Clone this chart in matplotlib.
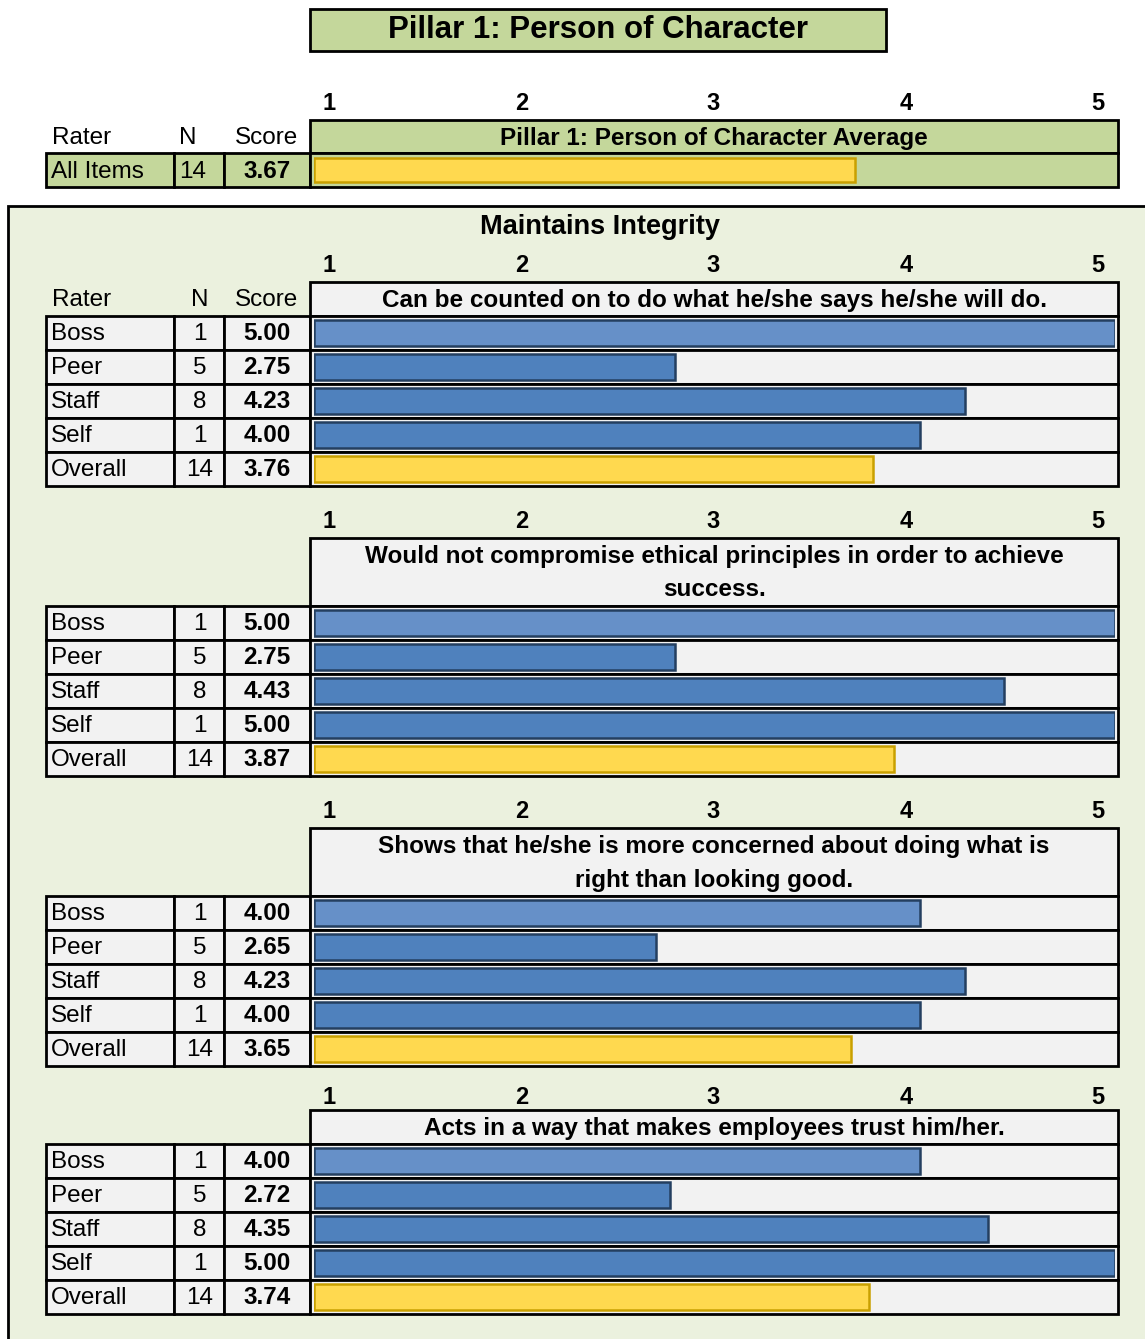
import numpy as np
import matplotlib
matplotlib.use("Agg")
import matplotlib.pyplot as plt
from matplotlib.patches import Rectangle

plt.rcParams['font.family'] = ['Liberation Sans', 'DejaVu Sans']

# ---- data ----
pillar_title = "Pillar 1: Person of Character"
section_title = "Maintains Integrity"
scale_labels = ["1", "2", "3", "4", "5"]
raters = ["Boss", "Peer", "Staff", "Self", "Overall"]
rater_n = [1, 5, 8, 1, 14]
all_items_n = 14
all_items_score = 3.67
items = [
    "Can be counted on to do what he/she says he/she will do.",
    "Would not compromise ethical principles in order to achieve\nsuccess.",
    "Shows that he/she is more concerned about doing what is\nright than looking good.",
    "Acts in a way that makes employees trust him/her.",
]
item_scores = [
    [5.00, 2.75, 4.23, 4.00, 3.76],
    [5.00, 2.75, 4.43, 5.00, 3.87],
    [4.00, 2.65, 4.23, 4.00, 3.65],
    [4.00, 2.72, 4.35, 5.00, 3.74],
]

# ---- styling ----
W, H = 1145, 1339
GREEN = "#C4D79B"
PANEL = "#EBF1DE"
CELL = "#F2F2F2"
BLUE = "#4F81BD"
BLUE_LIGHT = "#6690C8"
BLUE_EDGE = "#243F60"
GOLD = "#FFD94F"
GOLD_EDGE = "#C9A000"
LW = 2.0
XMIN, XMAX = 0.9, 5.0
ROW_FS = 17.5
HEAD_FS = 17.5
TICK_FS = 17

# column edges (pixels)
C0, C1, C2, C3, C4 = 46, 174, 224, 310, 1118
BAR_X0, BAR_X1 = 314, 1115
ROW_H = 34
tick_x = np.linspace(329, 1098, 5)

fig = plt.figure(figsize=(W / 100, H / 100), dpi=100)
base = fig.add_axes([0, 0, 1, 1])
base.set_xlim(0, W)
base.set_ylim(H, 0)
base.axis('off')


def box(x0, y0, x1, y1, fc, lw=LW, ec="black"):
    base.add_patch(Rectangle((x0, y0), x1 - x0, y1 - y0, facecolor=fc,
                             edgecolor=ec, linewidth=lw))


def txt(x, y, s, size=ROW_FS, weight="normal", ha="left"):
    base.text(x, y + 1, s, fontsize=size, fontweight=weight, ha=ha, va="center")


def bar_axes(y0, nrows):
    ax = fig.add_axes([BAR_X0 / W, 1 - (y0 + nrows * ROW_H) / H,
                       (BAR_X1 - BAR_X0) / W, nrows * ROW_H / H])
    ax.set_xlim(XMIN, XMAX)
    ax.set_ylim(nrows - 0.5, -0.5)
    ax.axis('off')
    ax.patch.set_alpha(0)
    return ax


# ---- title ----
box(310, 9, 886, 51, GREEN)
txt(598, 29, pillar_title, size=22.5, weight="bold", ha="center")

# ---- overall pillar block ----
for x, lab in zip(tick_x, scale_labels):
    txt(x, 103, lab, size=TICK_FS, weight="bold", ha="center")
txt(52, 137, "Rater")
txt(188, 137, "N", ha="center")
txt(267, 137, "Score", ha="center")
box(C3, 120, C4, 153, GREEN)
txt((C3 + C4) / 2, 137, pillar_title + " Average", size=HEAD_FS, weight="bold", ha="center")
for x0, x1 in [(C0, C1), (C1, C2), (C2, C3), (C3, C4)]:
    box(x0, 153, x1, 187, GREEN)
txt(51, 171, "All Items")
txt(179, 171, str(all_items_n))
txt(267, 171, f"{all_items_score:.2f}", weight="bold", ha="center")
ax_top = bar_axes(153, 1)
ax_top.barh([0], [all_items_score - XMIN], left=XMIN, height=0.72,
            color=GOLD, edgecolor=GOLD_EDGE, linewidth=1.8)

# ---- competency panel ----
box(8, 206, W + 10, H + 10, PANEL)
txt(600, 226, section_title, size=19.5, weight="bold", ha="center")

header_tops = [282, 538, 828, 1110]
tick_gap = [17, 17, 17, 13]
for k, (item, scores) in enumerate(zip(items, item_scores)):
    ht = header_tops[k]
    lines = item.split("\n")
    hh = ROW_H * len(lines)
    for x, lab in zip(tick_x, scale_labels):
        txt(x, ht - tick_gap[k], lab, size=TICK_FS, weight="bold", ha="center")
    if k == 0:
        txt(52, ht + 17, "Rater")
        txt(200, ht + 17, "N", ha="center")
        txt(267, ht + 17, "Score", ha="center")
    box(C3, ht, C4, ht + hh, CELL)
    for j, line in enumerate(lines):
        txt((C3 + C4) / 2, ht + 17 + j * ROW_H, line, size=HEAD_FS,
            weight="bold", ha="center")
    r0 = ht + hh
    for i, (name, n, s) in enumerate(zip(raters, rater_n, scores)):
        y0 = r0 + i * ROW_H
        for x0, x1 in [(C0, C1), (C1, C2), (C2, C3), (C3, C4)]:
            box(x0, y0, x1, y0 + ROW_H, CELL)
        yc = y0 + ROW_H / 2
        txt(51, yc, name)
        txt(200, yc, str(n), ha="center")
        txt(267, yc, f"{s:.2f}", weight="bold", ha="center")
    ax = bar_axes(r0, len(raters))
    colors = [BLUE_LIGHT, BLUE, BLUE, BLUE, GOLD]
    edges = [BLUE_EDGE] * 4 + [GOLD_EDGE]
    vals = np.array(scores)
    ax.barh(np.arange(len(raters)), vals - XMIN, left=XMIN, height=0.76,
            color=colors, edgecolor=edges, linewidth=1.8)

fig.savefig("out.png", dpi=100)
